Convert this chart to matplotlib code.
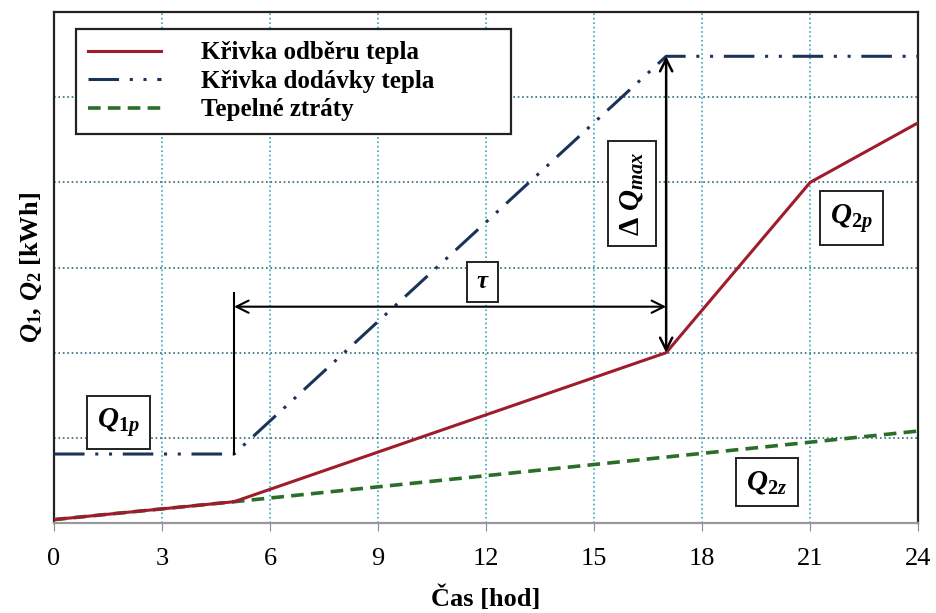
import matplotlib.pyplot as plt
import numpy as np

plt.rcParams['font.family'] = ['Liberation Serif', 'DejaVu Serif']
plt.rcParams['mathtext.fontset'] = 'custom'
plt.rcParams['mathtext.rm'] = 'Liberation Serif:bold'
plt.rcParams['mathtext.it'] = 'Liberation Serif:italic:bold'
plt.rcParams['mathtext.bf'] = 'Liberation Serif:bold'

# Data (hours, relative heat units - one grid step = 1)
odber_t = [0, 5, 17, 21, 24]
odber_q = [0.04, 0.25, 2.0, 4.0, 4.7]

dodavka_t = [0, 5, 17, 24]
dodavka_q = [0.81, 0.81, 5.48, 5.48]

ztraty_t = [0, 5, 24]
ztraty_q = [0.04, 0.25, 1.08]

x_ticks = [0, 3, 6, 9, 12, 15, 18, 21, 24]
y_grid = [0, 1, 2, 3, 4, 5, 6]

labels = ["Křivka odběru tepla", "Křivka dodávky tepla", "Tepelné ztráty"]

fig = plt.figure(figsize=(9.36, 6.13), dpi=100)
ax = fig.add_axes([0.0577, 0.1468, 0.9233, 0.8336])

ax.set_xlim(0, 24)
ax.set_ylim(0, 6)
ax.set_xticks(x_ticks)
ax.set_yticks(y_grid)
ax.set_yticklabels([])
ax.tick_params(axis='y', length=0)
ax.tick_params(axis='x', direction='out', length=6, color='#888888',
               labelsize=19, pad=12)

# grid
ax.grid(axis='x', color='#3aa6bd', linestyle=':', lw=1.2)
ax.grid(axis='y', color='#2d6c7a', linestyle=':', lw=1.2)
ax.set_axisbelow(True)

for s in ['left', 'top', 'right']:
    ax.spines[s].set_color('#222222')
    ax.spines[s].set_linewidth(1.6)
ax.spines['bottom'].set_color('#999999')
ax.spines['bottom'].set_linewidth(1.6)

# curves
ax.plot(dodavka_t, dodavka_q, color='#1b3358', lw=2.2,
        dashes=(10, 3.5, 1, 3.5, 1, 3.5), label=labels[1], zorder=3)
ax.plot(ztraty_t, ztraty_q, color='#2a6e2a', lw=2.6,
        dashes=(3.5, 2), label=labels[2], zorder=3)
ax.plot(odber_t, odber_q, color='#9e1c2c', lw=2.2, label=labels[0], zorder=4)

# annotations
t_start = dodavka_t[1]
t_peak = dodavka_t[2]
q_top = dodavka_q[2]
q_bend = odber_q[2]
arrow_kw = dict(arrowstyle='<->', color='black', lw=1.8,
                mutation_scale=22, shrinkA=0, shrinkB=0)

ax.annotate('', xy=(t_peak, q_top), xytext=(t_peak, q_bend),
            arrowprops=arrow_kw, zorder=5)
ax.annotate('', xy=(t_start, 2.54), xytext=(t_peak, 2.54),
            arrowprops=dict(arrow_kw, lw=1.5), zorder=5)
ax.plot([t_start, t_start], [dodavka_q[1], 2.7], color='black', lw=1.5, zorder=5)

box = dict(boxstyle='square,pad=0.3', fc='white', ec='#222222', lw=1.4)
ax.text(16.05, 3.87, r'$\mathit{\Delta\ Q_{max}}$', rotation=90, fontsize=21,
        ha='center', va='center', bbox=dict(box, boxstyle='square,pad=0.35'),
        zorder=6)
ax.text(11.9, 2.83, r'$\mathit{\tau}$', fontsize=18, ha='center', va='center',
        bbox=dict(box, boxstyle='square,pad=0.35'), zorder=6)
for tx, ty, s in [(1.8, 1.18, r'$\mathit{Q_{1p}}$'),
                  (22.15, 3.58, r'$\mathit{Q_{2p}}$'),
                  (19.8, 0.48, r'$\mathit{Q_{2z}}$')]:
    ax.text(tx, ty, s, fontsize=21, ha='center', va='center',
            bbox=dict(box, boxstyle='square,pad=0.35'), zorder=6)

# legend in the original order
h, l = ax.get_legend_handles_labels()
order = [l.index(s) for s in labels]
leg = ax.legend([h[i] for i in order], [l[i] for i in order],
                loc='upper left', bbox_to_anchor=(0.025, 0.767, 0.5035, 0.2),
                mode='expand', borderaxespad=0,
                prop={'weight': 'bold', 'size': 18},
                handlelength=2.9, handletextpad=1.6, labelspacing=0.22,
                fancybox=False, framealpha=1, edgecolor='#222222',
                borderpad=0.5)
leg.get_frame().set_linewidth(1.6)
leg.set_zorder(7)

ax.set_xlabel('Čas [hod]', fontsize=19, fontweight='bold', labelpad=11)
ax.set_ylabel(r'$\mathit{Q_1}$, $\mathit{Q_2}$ [kWh]', fontsize=19,
              fontweight='bold', labelpad=4)

fig.savefig('out.png', dpi=100)
